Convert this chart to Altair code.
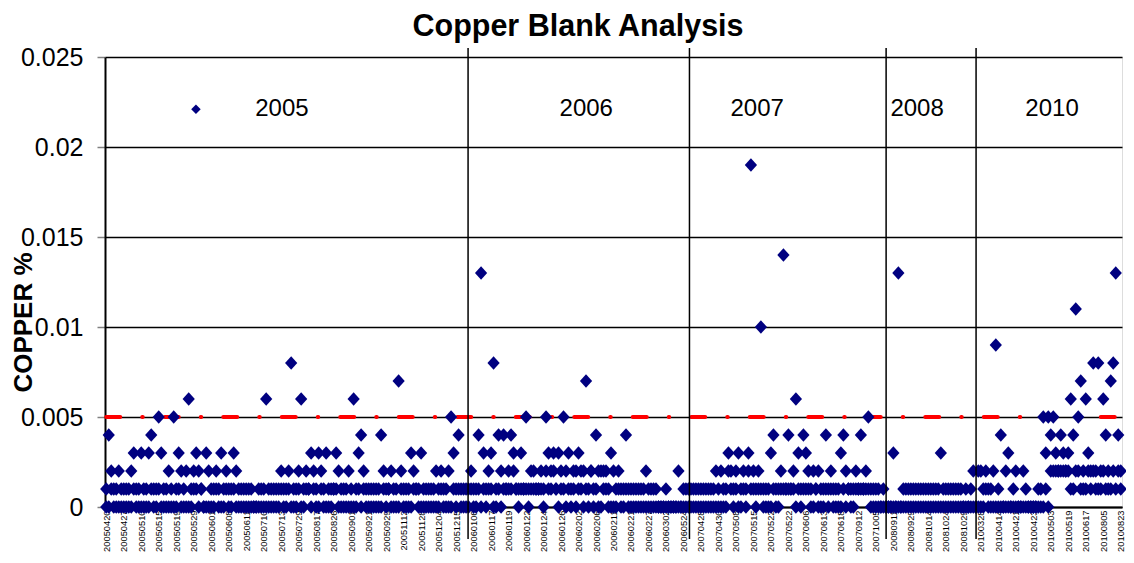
import altair as alt
import pandas as pd

# ---- data: copper in thousandths of a percent; two blank readings per sample ----
tick_dates = [
    "20050420", "20050427", "20050510", "20050515", "20050519", "20050529", "20050601",
    "20050608", "20050611", "20050710", "20050713", "20050729", "20050817", "20050826",
    "20050901", "20050921", "20050929", "20051112", "20051128", "20051204", "20051215",
    "20060106", "20060117", "20060119", "20060122", "20060124", "20060126", "20060202",
    "20060206", "20060211", "20060221", "20060227", "20060302", "20060524", "20070428",
    "20070430", "20070508", "20070515", "20070522", "20070522", "20070606", "20070613",
    "20070618", "20070912", "20071005", "20080911", "20080929", "20081014", "20081024",
    "20081029", "20100328", "20100414", "20100421", "20100423", "20100503", "20100519",
    "20100617", "20100805", "20100823",
]

cu_a_2005 = [
    0, 4, 2, 1, 0, 2, 1,  0, 1, 0, 2, 3, 1, 0,  3, 1, 0, 3, 4, 1, 0,
    5, 3, 1, 0, 2, 0, 5,  1, 3, 2, 0, 2, 6, 0,  2, 3, 2, 1, 0, 3, 2,
    0, 1, 2, 0, 3, 1, 2,  1, 0, 3, 2, 0, 1, 0,  1, 0, 1, 0, 0, 0, 1,
    0, 6, 1, 0, 1, 0, 1,  2, 0, 1, 2, 8, 0, 1,  2, 6, 0, 2, 1, 3, 2,
    0, 3, 2, 1, 3, 0, 1,  1, 3, 2, 0, 1, 0, 2,  0, 6, 1, 3, 4, 2, 0,
    1, 0, 1, 0, 1, 4, 2,  0, 1, 2, 0, 1, 7, 2,  0, 1, 0, 3, 2, 1, 0,
    3, 0, 1, 0, 1, 0, 2,  0, 2, 1, 0, 2, 5, 3,  1, 4, 0, 1,
]
cu_b_2005 = [
    1, 0, 1, 0, 1, 0, 0,  1, 0, 1, 0, 1, 0, 1,  0, 0, 1, 0, 1, 0, 1,
    1, 0, 0, 1, 0, 1, 0,  0, 1, 0, 1, 0, 0, 1,  1, 1, 0, 1, 0, 0, 0,
    1, 0, 1, 1, 0, 0, 1,  0, 1, 1, 0, 1, 0, 1,  0, 1, 0, 0, 0, 1, 0,
    1, 0, 0, 1, 0, 1, 0,  1, 1, 0, 1, 0, 1, 0,  1, 0, 1, 1, 1, 0, 1,
    1, 0, 1, 0, 0, 1, 0,  1, 1, 0, 1, 0, 1, 0,  1, 0, 0, 1, 0, 1, 1,
    0, 1, 0, 1, 0, 0, 1,  1, 1, 0, 1, 0, 0, 1,  1, 0, 1, 0, 1, 1, 1,
    0, 1, 0, 1, 0, 1, 0,  1, 1, 0, 1, 0, 0, 1,  0, 1, 1, 0,
]
cu_a_2006 = [
    0, 1, 2,
    0, 1, 4, 13, 3, 1, 2,  3, 8, 0, 4, 2, 4, 1,  2, 4, 3, 1, 0, 1, 1,
    5, 0, 2, 1, 1, 1, 2,   0, 5, 3, 2, 3, 1, 3,  2, 5, 0, 3, 1, 2, 0,
    3, 2, 0, 7, 1, 2, 0,   4, 2, 0, 2, 1, 0, 3,  0, 1, 2, 0, 1, 4, 0,
    1, 0, 1, 0, 1, 0, 2,   0, 1, 0, 1, 0, 0, 0,  1, 0, 0, 0, 0, 2, 0,
    1, 0,
]
cu_b_2006 = [
    1, 0, 1,
    1, 0, 1, 0, 1, 0, 1,   1, 0, 1, 1, 0, 1, 1,  1, 1, 2, 1, 1, 3, 1,
    1, 1, 1, 2, 1, 1, 1,   1, 2, 1, 1, 2, 1, 0,  1, 1, 2, 1, 0, 1, 2,
    1, 1, 2, 1, 0, 2, 1,   1, 0, 2, 1, 2, 1, 0,  2, 0, 1, 1, 0, 1, 1,
    0, 1, 0, 1, 0, 1, 0,   1, 0, 1, 0, 0, 0, 0,  0, 0, 0, 0, 0, 0, 0,
    0, 1,
]
cu_a_2007 = [
    0, 1, 0, 1, 0,
    1, 0, 1, 0, 1, 0, 2,   0, 2, 1, 0, 3, 2, 1,  2, 3, 0, 2, 1, 3, 19,
    2, 0, 2, 10, 1, 0, 1,  3, 4, 0, 0, 2, 14, 1, 4, 1, 2, 6, 3, 0, 4,
    3, 2, 0, 2, 1, 2, 0,   1, 4, 0, 2, 0, 1, 0,  3, 4, 2, 1, 0, 1, 2,
    1, 4, 1, 2, 5, 1, 0,
    0, 1,
]
cu_b_2007 = [
    1, 0, 1, 0, 1,
    0, 1, 0, 1, 0, 1, 0,   1, 0, 0, 1, 2, 1, 0,  1, 0, 1, 1, 0, 2, 1,
    1, 1, 1, 1, 0, 1, 0,   0, 1, 1, 1, 1, 1, 1,  1, 1, 1, 0, 1, 1, 1,
    1, 1, 1, 0, 1, 0, 1,   0, 1, 1, 1, 1, 0, 1,  0, 1, 0, 1, 1, 0, 1,
    1, 1, 1, 1, 1, 0, 1,
    1, 0,
]
cu_a_2008 = [
    0, 1, 0, 0, 0,
    3, 0, 13, 0, 0, 1, 0,  1, 0, 1, 0, 1, 0, 1,  0, 1, 0, 1, 0, 3, 1,
    0, 1, 0, 1, 0, 1, 0,
    0, 1, 0,
]
cu_b_2008 = [
    0, 0, 0, 0, 0,
    0, 0, 0, 0, 1, 0, 1,   0, 1, 0, 1, 0, 1, 0,  1, 0, 1, 0, 1, 0, 0,
    1, 0, 1, 0, 1, 0, 1,
    0, 0, 0,
]
cu_a_2010 = [
    1, 2, 0, 0, 2, 1, 2, 0, 1, 2,
    9, 1, 4, 0, 2, 3, 0, 1, 2, 0,
    0, 2, 1, 0, 0, 0, 0, 0, 1, 5,
    3, 5, 4, 5, 3, 2, 4, 3, 2, 3,
    6, 4, 11, 5, 7, 1, 6, 3, 2, 8,
    1, 8, 2, 6, 4, 1, 7, 8, 13, 4,
    1,
]
cu_b_2010 = [
    0, 0, 0, 2, 0, 0, 1, 1, 0, 0,
    0, 0, 0, 0, 0, 0, 0, 0, 0, 0,
    0, 0, 0, 0, 0, 0, 0, 1, 0, 0,
    1, 0, 2, 2, 2, 2, 2, 2, 2, 2,
    1, 1, 2, 2, 1, 2, 1, 2, 1, 2,
    2, 1, 1, 2, 1, 2, 1, 2, 1, 2,
    2,
]

limit_value = 0.005
year_names = ["2005", "2006", "2007", "2008", "2010"]
year_label_idx = [70.3, 192.1, 260.5, 324.5, 378.5]
year_label_cu = [0.0221, 0.0221, 0.0221, 0.0221, 0.0221]
year_break_idx = [144.8, 233.4, 312.1, 348.1]
legend_idx = [35.9]
legend_cu = [0.0221]

# ---- tables ----
vals_a = cu_a_2005 + cu_a_2006 + cu_a_2007 + cu_a_2008 + cu_a_2010
vals_b = cu_b_2005 + cu_b_2006 + cu_b_2007 + cu_b_2008 + cu_b_2010
n = len(vals_a)
points = pd.DataFrame({
    "idx": list(range(n)) + list(range(len(vals_b))),
    "cu": [v / 1000 for v in vals_a] + [v / 1000 for v in vals_b],
    "run": ["a"] * n + ["b"] * len(vals_b),
})
limit = pd.DataFrame({"idx": [0, n - 1], "cu": [limit_value, limit_value]})
labels = pd.DataFrame({"idx": year_label_idx, "cu": year_label_cu, "year": year_names})
breaks = pd.DataFrame({"idx": year_break_idx})
legend = pd.DataFrame({"idx": legend_idx, "cu": legend_cu})
title_df = pd.DataFrame({"t": ["Copper Blank Analysis"]})

FONT = "Liberation Sans"
NAVY = "#000080"
DIAMOND = "M0,-1.1L1,0L0,1.1L-1,0Z"

label_arr = "[" + ",".join("'" + d + "'" for d in tick_dates) + "]"

x_enc = alt.X(
    "idx:Q",
    title=None,
    scale=alt.Scale(domain=[-0.5, n - 0.5], nice=False, zero=False),
    axis=alt.Axis(
        values=list(range(0, n, 7)),
        labelExpr=label_arr + "[round(datum.value / 7)]",
        labelAngle=-90,
        labelFontSize=9.3,
        labelFont=FONT,
        labelColor="black",
        labelOverlap=False,
        tickSize=0,
        labelPadding=3,
        grid=False,
        domainColor="black",
        domainWidth=2,
    ),
)
y_enc = alt.Y(
    "cu:Q",
    title="COPPER %",
    scale=alt.Scale(domain=[0, 0.025], nice=False, zero=True),
    axis=alt.Axis(
        values=[0, 0.005, 0.01, 0.015, 0.02, 0.025],
        format="~g",
        labelFontSize=25,
        labelFont=FONT,
        labelColor="black",
        labelPadding=14,
        tickSize=8,
        tickColor="#808080",
        tickWidth=1.5,
        grid=True,
        gridColor="black",
        gridWidth=1.5,
        domainColor="black",
        domainWidth=2,
        titleFont=FONT,
        titleFontSize=26,
        titleFontWeight="bold",
        titleColor="black",
        titleAngle=-90,
        titleX=-82,
        titleY=265,
        titleAlign="center",
        titleBaseline="middle",
    ),
)

limit_line = alt.Chart(limit).mark_line(
    color="#FF0000", strokeWidth=4, strokeCap="round", strokeDash=[14, 22, 0.5, 22]
).encode(x=x_enc, y=y_enc)

dots = alt.Chart(points).mark_point(
    shape=DIAMOND, filled=True, size=150, color=NAVY, opacity=1
).encode(x=x_enc, y=y_enc, detail="run:N")

year_rules = alt.Chart(breaks).mark_rule(color="black", strokeWidth=1.5).encode(
    x=x_enc, y=alt.value(-9), y2=alt.value(482)
)

year_text = alt.Chart(labels).mark_text(
    font=FONT, fontSize=24, color="black", align="center", baseline="middle"
).encode(x=x_enc, y=y_enc, text="year:N")

legend_mark = alt.Chart(legend).mark_point(
    shape="diamond", filled=True, size=90, color=NAVY, opacity=1
).encode(x=x_enc, y=y_enc)

title_mark = alt.Chart(title_df).mark_text(
    font=FONT, fontSize=30.5, fontWeight="bold", color="black",
    align="center", baseline="alphabetic"
).encode(text="t:N", x=alt.value(473), y=alt.value(-21.5))

chart = alt.layer(
    limit_line, dots, year_rules, year_text, legend_mark, title_mark
).properties(
    width=1017,
    height=450,
    autosize=alt.AutoSizeParams(type="none"),
    padding={"left": 97, "top": 49, "right": 4, "bottom": 48},
).configure_view(stroke="black", strokeWidth=2).configure(background="white")

chart.save("out.html", embed_options={"renderer": "svg", "actions": False})
